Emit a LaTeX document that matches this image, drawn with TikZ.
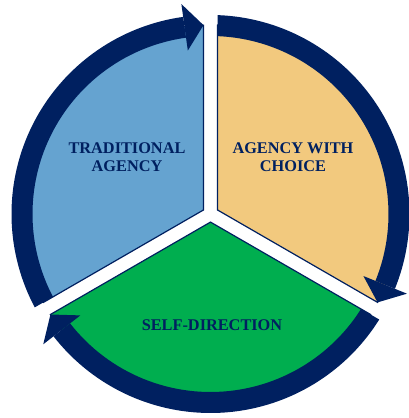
\documentclass[tikz,border=0pt]{standalone}
\usepackage{fontspec}
\setmainfont{Liberation Serif}
\definecolor{navy}{HTML}{002060}
\definecolor{tradblue}{HTML}{65A3D0}
\definecolor{choiceorange}{HTML}{F2C97E}
\definecolor{selfgreen}{HTML}{00AE4F}

\begin{document}
\begin{tikzpicture}[x=1pt, y=1pt,
                    every node/.style={font=\fontsize{16.3}{18.3}\selectfont\bfseries,
                                       text=navy, align=center},
                    sector/.style={draw=navy, line width=1.2pt}]
\useasboundingbox (-210.5,-204) rectangle (197.5,214);
\coordinate (c) at (0,0);
% traditional agency
\draw[sector, fill=tradblue] (150:8.08) -- (92.12:189)
  arc[start angle=92.12, end angle=207.88, radius=189] -- cycle;
\fill[navy] (207.98:199) arc[start angle=207.98, end angle=97.9, radius=199]
  -- (97.9:178) arc[start angle=97.9, end angle=207.75, radius=178] -- cycle;
\fill[navy] (97.9:212) -- (92.12:189) -- (97.9:165) -- cycle;
% agency with choice
\draw[sector, fill=choiceorange] (30:8.08) -- (-27.88:189)
  arc[start angle=-27.88, end angle=87.88, radius=189] -- cycle;
\fill[navy] (87.98:199) arc[start angle=87.98, end angle=-22.08, radius=199]
  -- (-22.08:178) arc[start angle=-22.08, end angle=87.75, radius=178] -- cycle;
\fill[navy] (-22.08:212) -- (-27.88:189) -- (-22.08:165) -- cycle;
% self-direction
\draw[sector, fill=selfgreen] (270:8.08) -- (212.12:189)
  arc[start angle=212.12, end angle=327.88, radius=189] -- cycle;
\fill[navy] (327.98:199) arc[start angle=327.98, end angle=217.92, radius=199]
  -- (217.92:178) arc[start angle=217.92, end angle=327.75, radius=178] -- cycle;
\fill[navy] (217.92:212) -- (212.12:189) -- (217.92:165) -- cycle;
% labels
\node (trad) at (-83.5,57) {TRADITIONAL\\AGENCY};
\node (choice) at (82.5,57) {AGENCY WITH\\CHOICE};
\node (self) at (1.5,-111) {SELF-DIRECTION};
\end{tikzpicture}
\end{document}
